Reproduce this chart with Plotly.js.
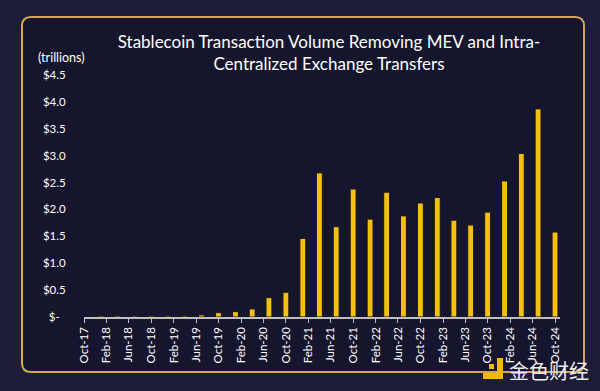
<!DOCTYPE html>
<html>
<head>
<meta charset="utf-8">
<script src="https://cdn.plot.ly/plotly-3.0.1.min.js"></script>
<style>
  html, body { margin: 0; padding: 0; background: #1d1d3a; }
  #chart { width: 600px; height: 391px; }
</style>
</head>
<body>
<div id="chart"></div>
<script>
// Quarterly stablecoin transaction volume (trillions USD)
const quarters = [
  '2018-01-01','2018-04-01','2018-07-01','2018-10-01',
  '2019-01-01','2019-04-01','2019-07-01','2019-10-01',
  '2020-01-01','2020-04-01','2020-07-01','2020-10-01',
  '2021-01-01','2021-04-01','2021-07-01','2021-10-01',
  '2022-01-01','2022-04-01','2022-07-01','2022-10-01',
  '2023-01-01','2023-04-01','2023-07-01','2023-10-01',
  '2024-01-01','2024-04-01','2024-07-01','2024-10-01'
];
const volume = [
  0.02, 0.02, 0.02, 0.02,
  0.02, 0.02, 0.04, 0.08,
  0.10, 0.15, 0.36, 0.46,
  1.46, 2.68, 1.68, 2.38,
  1.82, 2.32, 1.88, 2.12,
  2.22, 1.80, 1.71, 1.95,
  2.53, 3.04, 3.87, 1.58
];
const yTickVals = [0, 0.5, 1.0, 1.5, 2.0, 2.5, 3.0, 3.5, 4.0, 4.5];
const yTickText = ['$-\u00a0\u00a0', '$0.5', '$1.0', '$1.5', '$2.0', '$2.5', '$3.0', '$3.5', '$4.0', '$4.5'];

// layout geometry (pixels)
const W = 600, H = 391;
const M = { l: 84, r: 40, t: 75, b: 74 };
const PW = W - M.l - M.r, PH = H - M.t - M.b;
const px = x => (x - M.l) / PW;
const py = y => (H - M.b - y) / PH;

function roundRect(x0, y0, x1, y1, r) {
  const X = px, Y = py;
  return 'M' + X(x0 + r) + ',' + Y(y0) +
    ' L' + X(x1 - r) + ',' + Y(y0) +
    ' Q' + X(x1) + ',' + Y(y0) + ' ' + X(x1) + ',' + Y(y0 + r) +
    ' L' + X(x1) + ',' + Y(y1 - r) +
    ' Q' + X(x1) + ',' + Y(y1) + ' ' + X(x1 - r) + ',' + Y(y1) +
    ' L' + X(x0 + r) + ',' + Y(y1) +
    ' Q' + X(x0) + ',' + Y(y1) + ' ' + X(x0) + ',' + Y(y1 - r) +
    ' L' + X(x0) + ',' + Y(y0 + r) +
    ' Q' + X(x0) + ',' + Y(y0) + ' ' + X(x0 + r) + ',' + Y(y0) + ' Z';
}

const font = 'Lato, "Open Sans", "Liberation Sans", sans-serif';

const trace = {
  type: 'bar',
  x: quarters,
  y: volume,
  width: 32 * 86400000,
  marker: { color: '#f2c00f', line: { color: '#1a1420', width: 1 } },
  hoverinfo: 'x+y'
};

const layout = {
  width: W, height: H,
  margin: M,
  paper_bgcolor: '#1d1d3a',
  plot_bgcolor: 'rgba(0,0,0,0)',
  showlegend: false,
  bargap: 0,
  title: {
    text: 'Stablecoin Transaction Volume Removing MEV and Intra-<br>Centralized Exchange Transfers',
    font: { family: font, size: 17, color: '#ffffff' },
    xref: 'container', x: 329 / W, xanchor: 'center',
    yref: 'container', y: 1 - 48 / H, yanchor: 'middle'
  },
  xaxis: {
    type: 'date',
    range: ['2017-10-01', '2024-10-28'],
    tick0: '2017-10-01',
    dtick: 'M4',
    tickformat: '%b-%y',
    tickangle: -90,
    tickfont: { family: font, size: 11.5, color: '#ffffff' },
    showgrid: false,
    zeroline: false,
    showline: true,
    linecolor: '#bfbfbf',
    linewidth: 1.5,
    ticks: 'outside',
    ticklen: 4,
    tickcolor: '#bfbfbf',
    tickwidth: 1
  },
  yaxis: {
    range: [0, 4.5],
    tickvals: yTickVals,
    ticktext: yTickText,
    tickfont: { family: font, size: 11.5, color: '#ffffff' },
    showgrid: false,
    zeroline: false,
    showline: false,
    ticks: 'outside',
    ticklen: 15,
    tickcolor: 'rgba(0,0,0,0)'
  },
  shapes: [
    {
      type: 'path', xref: 'paper', yref: 'paper', layer: 'below',
      path: roundRect(22, 17, 584, 372, 9),
      fillcolor: '#15152d',
      line: { color: '#d2a656', width: 2 }
    },
    // watermark logo
    {
      type: 'path', xref: 'paper', yref: 'paper', layer: 'above',
      path: 'M' + px(497) + ',' + py(358) + ' L' + px(503) + ',' + py(358) +
            ' L' + px(503) + ',' + py(379) + ' L' + px(483) + ',' + py(379) +
            ' L' + px(483) + ',' + py(373) + ' L' + px(497) + ',' + py(373) + ' Z',
      fillcolor: '#f0b90b', line: { width: 0 }
    },
    {
      type: 'rect', xref: 'paper', yref: 'paper', layer: 'above',
      x0: px(489), x1: px(494), y0: py(369), y1: py(364),
      fillcolor: '#f0b90b', line: { width: 0 }
    }
  ],
  annotations: [
    {
      text: '(trillions)', xref: 'paper', yref: 'paper',
      x: px(61), y: py(57), xanchor: 'center', yanchor: 'middle',
      showarrow: false, font: { family: font, size: 12.5, color: '#ffffff' }
    },
    {
      text: '金色财经', xref: 'paper', yref: 'paper',
      x: px(549), y: py(370), xanchor: 'center', yanchor: 'middle',
      showarrow: false,
      font: { family: '"Noto Sans CJK SC", sans-serif', size: 20, color: '#eeeeee' }
    }
  ]
};

Plotly.newPlot('chart', [trace], layout, { displayModeBar: false, staticPlot: true });
</script>
</body>
</html>
